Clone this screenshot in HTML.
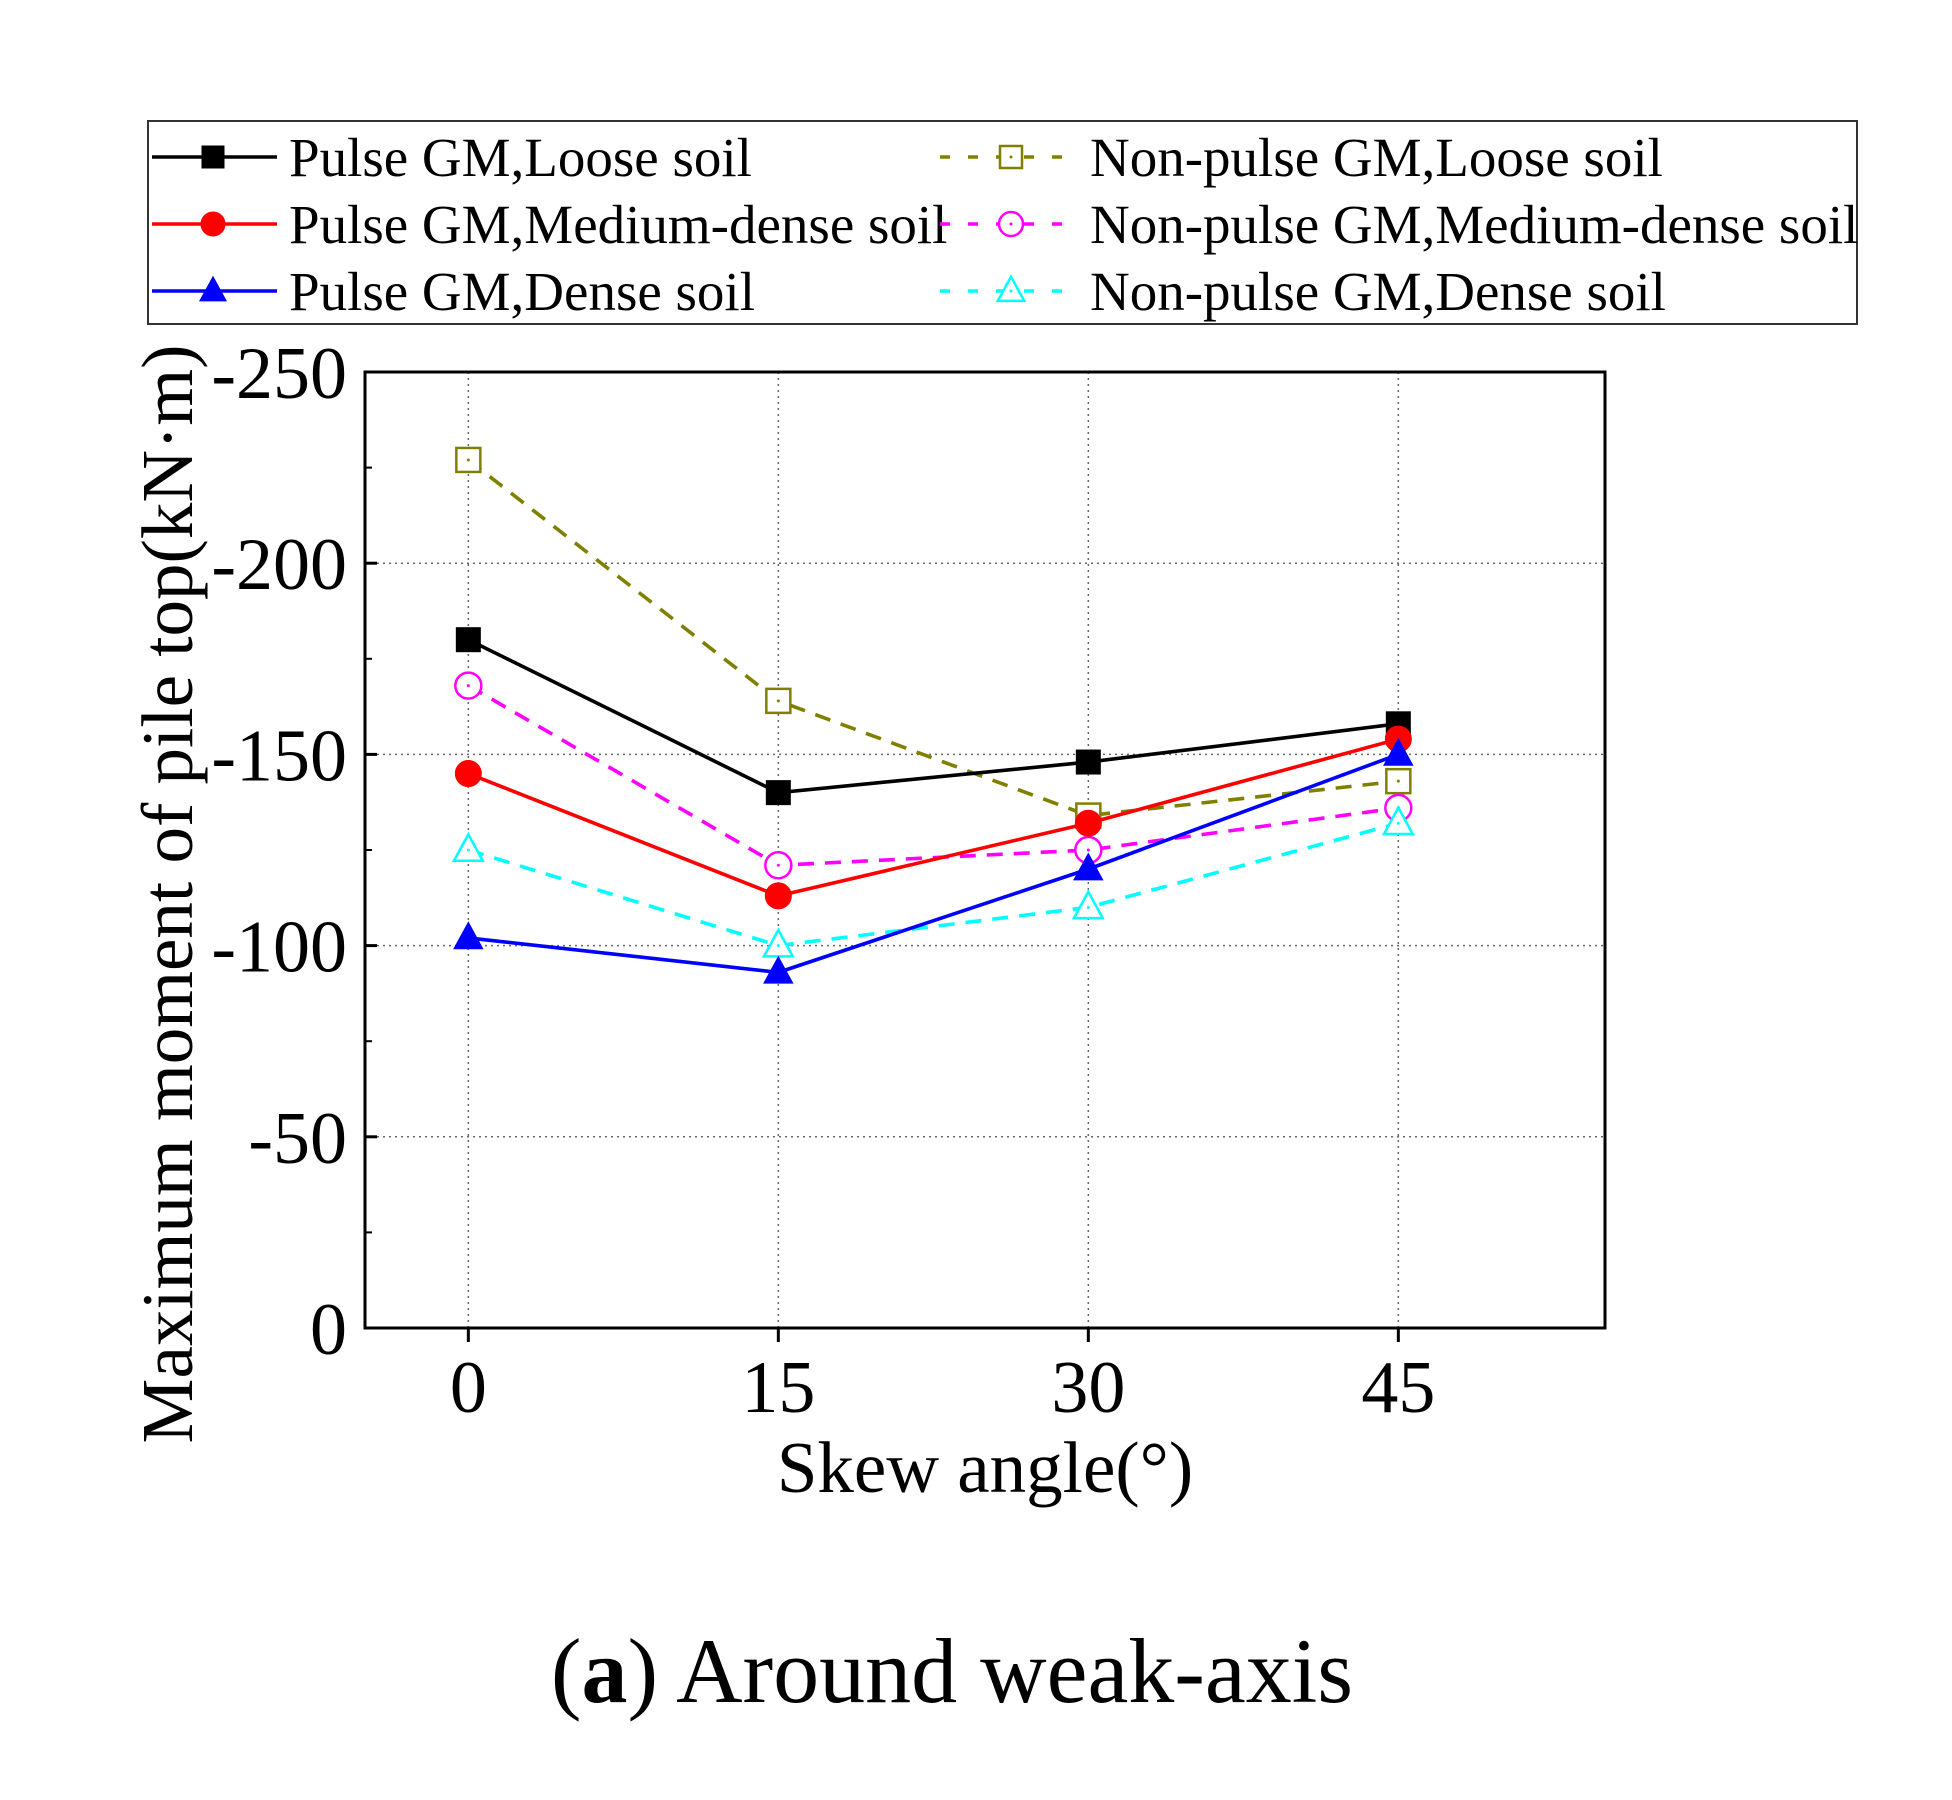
<!DOCTYPE html>
<html><head><meta charset="utf-8"><style>
html,body{margin:0;padding:0;background:#fff;}
svg{display:block;font-family:"Liberation Serif",serif;}
</style></head><body>
<svg id="chart" width="1952" height="1800" viewBox="0 0 1952 1800">
<rect x="0" y="0" width="1952" height="1800" fill="#fff"/>
<g id="grid"></g>
<g id="axes"></g>
<g id="series"></g>
<g id="legend"></g>
<text x="985" y="1492" font-size="73" text-anchor="middle">Skew angle(°)</text>
<text transform="translate(192,894) rotate(-90)" font-size="73" text-anchor="middle">Maximum moment of pile top(kN·m)</text>
<text x="952" y="1702" font-size="92" text-anchor="middle">(<tspan font-weight="bold">a</tspan>) Around weak-axis</text>
</svg>
<script>
const categories = [0, 15, 30, 45];
const yTicks = [0, -50, -100, -150, -200, -250];
const pulseLoose = [-180, -140, -148, -158];
const pulseMedium = [-145, -113, -132, -154];
const pulseDense = [-102, -93, -120, -150];
const nonPulseLoose = [-227, -164, -134, -143];
const nonPulseMedium = [-168, -121, -125, -136];
const nonPulseDense = [-125, -100, -110, -132];
const seriesNames = ["Pulse GM,Loose soil","Pulse GM,Medium-dense soil","Pulse GM,Dense soil","Non-pulse GM,Loose soil","Non-pulse GM,Medium-dense soil","Non-pulse GM,Dense soil"];

const NS="http://www.w3.org/2000/svg";
const L=365,R=1605,T=372,B=1328;
const X=v=>L+(v-(-5))/60*(R-L);
function Yv(v){return B-(-v)/250*(B-T);}
function mk(tag,attrs,parent){const e=document.createElementNS(NS,tag);for(const k in attrs)e.setAttribute(k,attrs[k]);parent.appendChild(e);return e;}
const grid=document.getElementById('grid'),axes=document.getElementById('axes'),ser=document.getElementById('series'),leg=document.getElementById('legend');

categories.forEach(c=>{
  const g=mk('line',{x1:X(c),x2:X(c),y1:T,y2:B,stroke:'#666','stroke-width':1.5,'stroke-dasharray':'2,4'},grid);
  
  
  const t=mk('line',{x1:X(c),x2:X(c),y1:B,y2:B+14,stroke:'#000','stroke-width':3},axes);
  
  
  const lb=mk('text',{x:X(c),y:B+84,'font-size':74,'text-anchor':'middle'},axes);
  lb.textContent=c;
  
  
});
yTicks.forEach(v=>{
  if(v!==0&&v!==-250){
    const g=mk('line',{x1:L,x2:R,y1:Yv(v),y2:Yv(v),stroke:'#666','stroke-width':1.5,'stroke-dasharray':'2,4'},grid);
    
    
  }
  const t=mk('line',{x1:L,x2:L+12,y1:Yv(v),y2:Yv(v),stroke:'#000','stroke-width':3},axes);
  
  
  const lb=mk('text',{x:347,y:Yv(v)+26,'font-size':74,'text-anchor':'end'},axes);
  lb.textContent=v;
  
  
});
for(let i=0;i<5;i++){
  const v=-25-50*i;
  const t=mk('line',{x1:L,x2:L+7,y1:Yv(v),y2:Yv(v),stroke:'#000','stroke-width':2},axes);
  
  
}
const frame=mk('rect',{x:L,y:T,width:R-L,height:B-T,fill:'none',stroke:'#000','stroke-width':3},axes);



const styles=[
 {c:'#000',dash:null,m:'square',fill:true},
 {c:'#ff0000',dash:null,m:'circle',fill:true},
 {c:'#0000ff',dash:null,m:'triangle',fill:true},
 {c:'#808000',dash:'16,11',m:'square',fill:false},
 {c:'#ff00ff',dash:'16,11',m:'circle',fill:false},
 {c:'#00ffff',dash:'16,11',m:'triangle',fill:false}
];
const data=[pulseLoose,pulseMedium,pulseDense,nonPulseLoose,nonPulseMedium,nonPulseDense];
function marker(parent,s,x,y,size){
  const a={fill:s.fill?s.c:'#fff',stroke:s.c,'stroke-width':s.fill?1:2.5};
  let e;
  if(s.m==='square')e=mk('rect',Object.assign({x:x-size/2,y:y-size/2,width:size,height:size},a),parent);
  else if(s.m==='circle')e=mk('circle',Object.assign({cx:x,cy:y,r:size/2+1},a),parent);
  else e=mk('polygon',Object.assign({points:`${x},${y-size*0.65} ${x-size*0.6},${y+size*0.45} ${x+size*0.6},${y+size*0.45}`},a),parent);
  if(!s.fill){const d=mk('circle',{cx:x,cy:y,r:1.5,fill:s.c},parent);}
  return e;
}
const order=[3,4,5,0,1,2];
order.forEach(i=>{
  const s=styles[i],vals=data[i];
  const g=mk('g',{},ser);
  
  
  const pts=vals.map((v,j)=>X(categories[j])+','+Yv(v)).join(' ');
  const pl=mk('polyline',{points:pts,fill:'none',stroke:s.c,'stroke-width':3.6},g);
  if(s.dash)pl.setAttribute('stroke-dasharray',s.dash);
  
  
  vals.forEach((v,j)=>{
    const m=marker(g,s,X(categories[j]),Yv(v),24);
    
    
  });
});

const box=mk('rect',{x:148,y:121,width:1709,height:203,fill:'#fff',stroke:'#333','stroke-width':2},leg);


const rowsY=[157,224,291];
seriesNames.forEach((n,i)=>{
  const col=i<3?0:1,row=i%3;
  const lx=col?940:152,mx=col?1011:213,tx=col?1090:289;
  const s=styles[i],y=rowsY[row];
  const g=mk('g',{},leg);
  
  
  const ln=mk('line',{x1:lx,x2:lx+125,y1:y,y2:y,stroke:s.c,'stroke-width':3.6},g);
  if(s.dash)ln.setAttribute('stroke-dasharray','10,18');
  
  
  const m=marker(g,s,mx,y,22);
  
  
  const t=mk('text',{x:tx,y:y+19,'font-size':55},g);
  t.textContent=n;
  
  
});
</script>
</body></html>
